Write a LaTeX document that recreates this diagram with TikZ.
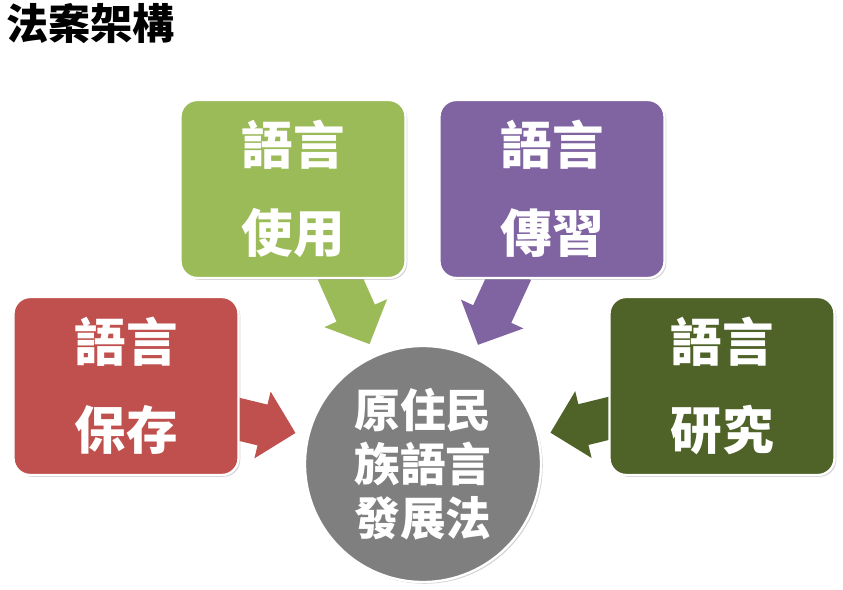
\documentclass[tikz,border=0pt]{standalone}
\usepackage{fontspec}
\newfontfamily\cjk{Noto Sans CJK TC}
\usetikzlibrary{arrows.meta,shadows,calc,backgrounds}

\definecolor{saveRed}{HTML}{C0504D}
\definecolor{useGreen}{HTML}{9BBB59}
\definecolor{teachPurple}{HTML}{8064A2}
\definecolor{studyGreen}{HTML}{4F6228}
\definecolor{lawGray}{HTML}{7F7F7F}

\tikzset{
  topic/.style={draw=white, line width=2pt, rounded corners=0.5cm,
    minimum width=6.75cm, minimum height=5.34cm, align=center,
    text=white, font=\cjk\bfseries\fontsize{44}{75}\selectfont,
    drop shadow={opacity=0.35, shadow xshift=1.5pt, shadow yshift=-1.5pt}},
  hub/.style={circle, draw=white, line width=2pt, fill=lawGray,
    minimum size=7.08cm, align=center, text=white,
    font=\cjk\bfseries\fontsize{39}{46}\selectfont,
    drop shadow={opacity=0.35, shadow xshift=1.5pt, shadow yshift=-1.5pt}},
  bigarrow/.style={line width=1.26cm, shorten >=0.36cm,
    -{Triangle[length=1.02cm, width=2.0cm]}}
}

\begin{document}
\begin{tikzpicture}[x=0.03cm, y=-0.03cm]
    \useasboundingbox (0,0) rectangle (843,589);
    \node[anchor=west, font=\cjk\bfseries\fontsize{36}{36}\selectfont] (title) at (2,24) {法案架構};

    \node[topic, fill=useGreen] (use) at (293,189) {語言\\使用};
    \node[topic, fill=teachPurple] (teach) at (552,189) {語言\\傳習};
    \node[topic, fill=saveRed] (save) at (126,386) {語言\\保存};
    \node[topic, fill=studyGreen] (study) at (722,386) {語言\\研究};
    \node[hub] (law) at (423,464) {原住民\\族語言\\發展法};

    % arrows sit under the boxes
    \begin{scope}[on background layer]
        \draw[bigarrow, saveRed] ($(save.east)+(-10,31)$) -- (law);
        \draw[bigarrow, useGreen] ($(use.south)+(44,-8)$) -- (law);
        \draw[bigarrow, teachPurple] ($(teach.south)+(-40,-8)$) -- (law);
        \draw[bigarrow, studyGreen] ($(study.west)+(10,30)$) -- (law);
    \end{scope}
\end{tikzpicture}
\end{document}
